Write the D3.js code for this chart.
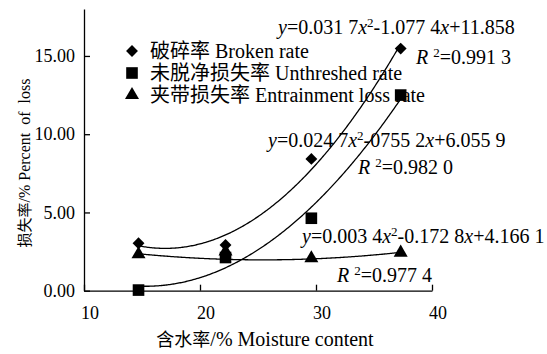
<!DOCTYPE html>
<html>
<head>
<meta charset="utf-8">
<script src="https://cdn.jsdelivr.net/npm/d3@7"></script>
<style>
  body { margin: 0; background: #fff; }
  svg text { font-family: "Liberation Serif", "Times New Roman", "Noto Sans CJK SC", serif; fill: #000; }
  .axis path, .axis line { stroke: #000; stroke-width: 1.3; }
  .axis text { font-size: 18px; }
</style>
</head>
<body>
<div class="chart"></div>
<script>
const moisture = [14.7, 22.2, 29.6, 37.3];
const broken = [3.03, 2.92, 8.42, 15.47];
const unthreshed = [0.04, 2.12, 4.63, 12.5];
const entrainment = [2.33, 2.5, 2.07, 2.43];

// trend line coefficients as printed (a x^2 + b x + c)
const brokenFit = [0.0317, -1.0774, 11.858];
const unthreshedFit = [0.0247, -0.7552, 6.0559];
const entrainmentFit = [0.0034, -0.1728, 4.1661];

const xTicks = [10, 20, 30, 40];
const yTicks = [0, 5, 10, 15];

const legendCn = ["破碎率", "未脱净损失率", "夹带损失率"];
const legendEn = ["Broken rate", "Unthreshed rate", "Entrainment loss rate"];

const svg_width = 547, svg_height = 354;
const svg = d3.select(".chart").append("svg")
  .attr("width", svg_width).attr("height", svg_height);

const xScale = d3.scaleLinear([10, 40], [84, 432]);
const yScale = d3.scaleLinear([0, 18], [290.7, 9]);

// axes
const xAxis = d3.axisBottom(xScale).tickValues(xTicks)
  .tickSizeInner(-6).tickSizeOuter(0).tickPadding(16);
const xAxisDraw = svg.append("g").attr("class", "x axis")
  .attr("transform", `translate(0,${yScale(0)})`).call(xAxis);
xAxisDraw.attr("font-family", null);
xAxisDraw.selectAll("text").attr("dx", "0.3em");

const yAxis = d3.axisLeft(yScale).tickValues(yTicks).tickFormat(d3.format(".2f"))
  .tickSizeInner(-6).tickSizeOuter(0).tickPadding(9);
svg.append("g").attr("class", "y axis")
  .attr("transform", `translate(${xScale(10)},0)`).call(yAxis)
  .attr("font-family", null);

// axis labels
const xLab = svg.append("text")
  .attr("x", 265).attr("y", 346)
  .style("text-anchor", "middle").style("font-size", "20px");
xLab.append("tspan").style("font-size", "18px").text("含水率");
xLab.append("tspan").text("/% Moisture content");

const yLab = svg.append("text")
  .attr("transform", "rotate(-90)")
  .attr("x", -163).attr("y", 30)
  .style("text-anchor", "middle").style("font-size", "16px");
yLab.append("tspan").style("font-size", "15px").text("损失率");
yLab.append("tspan").text("/% Percent\u00a0 of\u00a0 loss");

// trend curves
const fits = [brokenFit, unthreshedFit, entrainmentFit];
const xs = d3.range(moisture[0], moisture[3] + 0.01, 0.1);
const line = d3.line().x(d => xScale(d[0])).y(d => yScale(d[1]));
fits.forEach(f => {
  svg.append("path")
    .datum(xs.map(x => [x, f[0] * x * x + f[1] * x + f[2]]))
    .attr("d", line)
    .attr("fill", "none").attr("stroke", "#000").attr("stroke-width", 1.3);
});

// markers
const symbols = [
  d3.symbol().type(d3.symbolDiamond2).size(90),
  d3.symbol().type(d3.symbolSquare).size(135),
  d3.symbol().type(d3.symbolTriangle).size(85)
];
const seriesList = [broken, unthreshed, entrainment];
// draw entrainment, unthreshed, broken order so stacking looks similar
[2, 1, 0].forEach(i => {
  svg.selectAll(`.pt${i}`)
    .data(seriesList[i])
    .enter().append("path")
    .attr("class", `pt${i}`)
    .attr("transform", (d, j) => `translate(${xScale(moisture[j])},${yScale(d)})`)
    .attr("d", symbols[i]())
    .attr("fill", "#000");
});

// legend
const legend = svg.append("g").attr("class", "legend");
legendCn.forEach((name, i) => {
  const ly = 51 + i * 22;
  legend.append("path")
    .attr("transform", `translate(132,${ly})`)
    .attr("d", symbols[i]())
    .attr("fill", "#000");
  const t = legend.append("text")
    .attr("x", 150).attr("y", ly + 7)
    .style("font-size", "20px");
  t.append("tspan").text(name);
  t.append("tspan").text(" " + legendEn[i]);
});

// equation labels: [text, style] where i = italic, s = superscript
function richText(x, y, parts) {
  const t = svg.append("text").attr("x", x).attr("y", y).style("font-size", "20px");
  parts.forEach(p => {
    const ts = t.append("tspan").text(p[0]);
    if (p[1] === "i") ts.style("font-style", "italic");
    if (p[1] === "s") ts.attr("dy", -7).style("font-size", "13px");
    if (p[1] === "after") ts.attr("dy", 7);
  });
}
richText(278, 34, [["y", "i"], ["=0.031 7"], ["x", "i"], ["2", "s"], ["-1.077 4", "after"], ["x", "i"], ["+11.858"]]);
richText(416, 64, [["R", "i"], [" "], ["2", "s"], ["=0.991 3", "after"]]);
richText(268, 147, [["y", "i"], ["=0.024 7"], ["x", "i"], ["2", "s"], ["-0755 2", "after"], ["x", "i"], ["+6.055 9"]]);
richText(358, 174, [["R", "i"], [" "], ["2", "s"], ["=0.982 0", "after"]]);
richText(302, 243, [["y", "i"], ["=0.003 4"], ["x", "i"], ["2", "s"], ["-0.172 8", "after"], ["x", "i"], ["+4.166 1"]]);
richText(337, 282, [["R", "i"], [" "], ["2", "s"], ["=0.977 4", "after"]]);
</script>
</body>
</html>
